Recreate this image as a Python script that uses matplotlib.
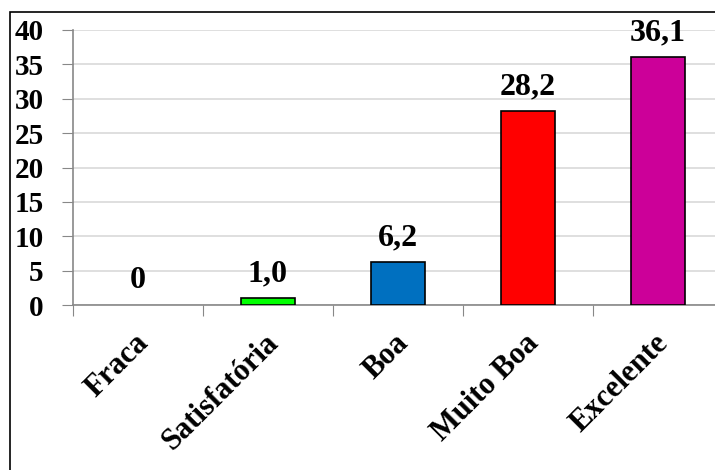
import matplotlib.pyplot as plt
from matplotlib.patches import Rectangle

categorias = ["Fraca", "Satisfatória", "Boa", "Muito Boa", "Excelente"]
valores = [0, 1.0, 6.2, 28.2, 36.1]
rotulos = ["0", "1,0", "6,2", "28,2", "36,1"]
cores = ["#00FF00", "#00FF00", "#0070C0", "#FF0000", "#CC0099"]

plt.rcParams['font.family'] = ['Liberation Serif', 'DejaVu Serif']
plt.rcParams['font.weight'] = 'bold'

fig = plt.figure(figsize=(7.15, 4.7), dpi=100)
# eixo vai um pouco além da borda direita
ax = fig.add_axes([73 / 715, 1 - 305 / 470, 650 / 715, 275 / 470])

x = range(len(categorias))
larguras_borda = [0 if v == 0 else 1.2 for v in valores]
ax.bar(x, valores, width=0.41, color=cores, edgecolor="black",
       linewidth=larguras_borda, zorder=3)

for i, (v, r) in enumerate(zip(valores, rotulos)):
    ax.annotate(r, (i, v), xytext=(0, 7), textcoords="offset points",
                ha="center", va="bottom", fontsize=23, fontweight="bold")

ax.set_xlim(-0.5, 4.5)
ax.set_ylim(0, 40)
ax.set_yticks(range(0, 41, 5))
ax.set_yticklabels([str(t) for t in range(0, 41, 5)], fontsize=21, fontweight="bold")
ax.yaxis.grid(True, color="#D9D9D9", linewidth=1.2, zorder=0)

ax.set_xticks([i - 0.5 for i in range(1, 5)] + [-0.5])
ax.set_xticklabels([])
ax.tick_params(axis="x", length=8, color="#888888")
ax.tick_params(axis="y", length=8, color="#888888", pad=13)
for i, c in enumerate(categorias):
    ax.annotate(c, (i, 0), xytext=(-3, -17), textcoords="offset points",
                rotation=45, rotation_mode="anchor", ha="right", va="top",
                fontsize=22, fontweight="bold")

for s in ["top", "right"]:
    ax.spines[s].set_visible(False)
for s in ["left", "bottom"]:
    ax.spines[s].set_color("#888888")
    ax.spines[s].set_linewidth(1.2)

# moldura da área do gráfico
fig.patches.append(Rectangle((10 / 715, -0.5), 2, 1.5 - 12 / 470, transform=fig.transFigure,
                             fill=False, edgecolor="black", linewidth=1.2))

fig.savefig("out.png", dpi=100)
